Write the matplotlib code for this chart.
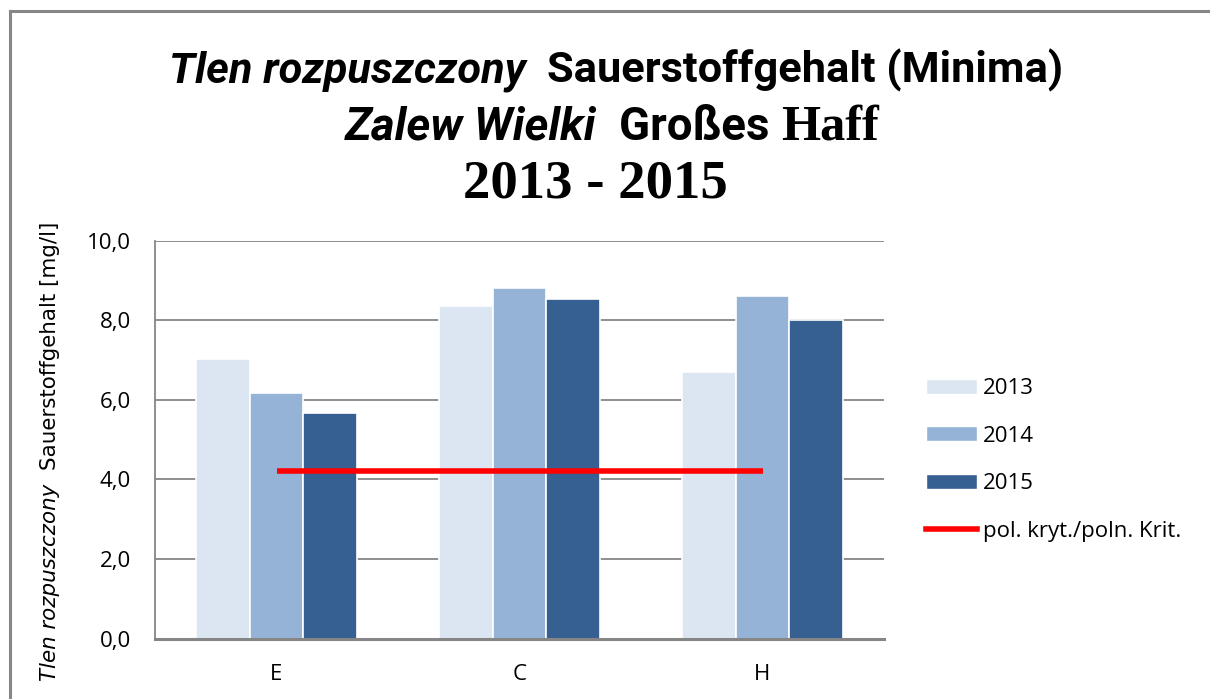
import matplotlib
matplotlib.use("Agg")
import matplotlib.pyplot as plt
import numpy as np
from matplotlib.patches import Rectangle
from matplotlib.lines import Line2D

categories = ["E", "C", "H"]
years = ["2013", "2014", "2015"]
v2013 = [7.03, 8.37, 6.71]
v2014 = [6.18, 8.80, 8.60]
v2015 = [5.67, 8.53, 8.00]
critical = [4.2, 4.2, 4.2]
critical_label = "pol. kryt./poln. Krit."
yticks = [0, 2, 4, 6, 8, 10]
ytick_labels = ["0,0", "2,0", "4,0", "6,0", "8,0", "10,0"]

colors = ["#DCE6F2", "#95B3D7", "#366092"]
red = "#FF0000"
grid_c = "#868686"

W, H = 1210, 699
fig = plt.figure(figsize=(W / 100, H / 100), dpi=100)
fig.patch.set_facecolor("white")

TITLE = ["Roboto", "DejaVu Sans"]
SANS = ["Open Sans", "DejaVu Sans"]
SERIF = ["Liberation Serif", "DejaVu Serif"]
YLAB = ["DejaVu Sans"]

# outer chart border (only left and top edges visible in the crop)
fig.add_artist(Line2D([10 / W, 10 / W], [0, (H - 11) / H], transform=fig.transFigure,
                      color=grid_c, linewidth=2.2))
fig.add_artist(Line2D([10 / W, 1.0], [(H - 11) / H, (H - 11) / H], transform=fig.transFigure,
                      color=grid_c, linewidth=2.2))

ax = fig.add_axes([155 / W, (H - 638.5) / H, (884 - 155) / W, (638.5 - 240.7) / H])
x = np.arange(len(categories))
bw = 0.22
series = [v2013, v2014, v2015]
for i, (vals, c, lab) in enumerate(zip(series, colors, years)):
    ax.bar(x + (i - 1) * bw, vals, width=bw, color=c, edgecolor="white",
           linewidth=1.2, label=lab, zorder=3)
ax.plot(x, critical, color=red, linewidth=4.0, solid_capstyle="butt",
        label=critical_label, zorder=4)

ax.set_xlim(-0.5, 2.5)
ax.set_ylim(0, 10)
ax.set_yticks(yticks)
ax.set_yticklabels(ytick_labels, family=SANS, fontsize=16, color="#000000")
ax.set_xticks(x)
ax.set_xticklabels(categories, family=SANS, fontsize=16)
ax.tick_params(axis="both", length=0)
ax.tick_params(axis="y", pad=17.5)
ax.tick_params(axis="x", pad=18)
ax.grid(axis="y", color=grid_c, linewidth=1.3, zorder=0)
ax.set_axisbelow(True)
for s in ["right", "top"]:
    ax.spines[s].set_visible(False)
ax.spines["left"].set_color(grid_c)
ax.spines["left"].set_linewidth(1.3)
ax.spines["bottom"].set_color(grid_c)
ax.spines["bottom"].set_linewidth(2.2)
ax.spines["bottom"].set_zorder(5)

# legend
handles = [Rectangle((0, 0), 1, 1, facecolor=c, edgecolor="white") for c in colors]
handles.append(Line2D([0], [0], color=red, linewidth=4.0))
leg = fig.legend(handles, years + [critical_label], loc="center left",
                 bbox_to_anchor=(915 / W, (H - 460) / H), frameon=False,
                 prop={"family": SANS, "size": 16}, handlelength=2.3,
                 handleheight=0.65, handletextpad=0.25, labelspacing=1.2,
                 borderpad=0.0)

fig.canvas.draw()
renderer = fig.canvas.get_renderer()


def rich_line(pieces, cx, baseline, target_w):
    """pieces: list of (text, kwargs); scale sizes so the line is target_w wide,
    then place centred at pixel cx with the given baseline (pixels from top)."""
    texts = []
    for txt, kw in pieces:
        t = fig.text(0, 0, txt, transform=None, va="baseline", ha="left", **kw)
        texts.append(t)
    total = sum(t.get_window_extent(renderer).width for t in texts)
    k = target_w / total
    for t in texts:
        t.set_fontsize(t.get_fontsize() * k)
    widths = [t.get_window_extent(renderer).width for t in texts]
    xpos = cx - sum(widths) / 2
    for t, w in zip(texts, widths):
        t.set_position((xpos, H - baseline))
        xpos += w


rich_line([("Tlen rozpuszczony  ", dict(family=TITLE, style="italic", weight="bold", fontsize=30)),
           ("Sauerstoffgehalt (Minima)", dict(family=TITLE, weight="bold", fontsize=30))],
          616, 83, 892)
rich_line([("Zalew Wielki  ", dict(family=TITLE, style="italic", weight="bold", fontsize=30)),
           ("Großes ", dict(family=TITLE, weight="bold", fontsize=30)),
           ("Haff", dict(family=SERIF, weight="bold", fontsize=33))],
          612, 140, 534)
rich_line([("2013 - 2015", dict(family=SERIF, weight="bold", fontsize=33))],
          595, 197, 264)

# rotated y label made of two styles
t1 = fig.text(0, 0, "Tlen rozpuszczony", transform=None, rotation=90, va="center", ha="center",
              family=YLAB, style="italic", fontsize=15.4)
t2 = fig.text(0, 0, "Sauerstoffgehalt [mg/l]", transform=None, rotation=90, va="center", ha="center",
              family=YLAB, fontsize=15.4)
h1 = t1.get_window_extent(renderer).height
h2 = t2.get_window_extent(renderer).height
gap = 14
ybot = (H - 681)
xlab = 50
t1.set_position((xlab, ybot + h1 / 2))
t2.set_position((xlab, ybot + h1 + gap + h2 / 2))

fig.savefig("out.png", dpi=100, facecolor="white")
